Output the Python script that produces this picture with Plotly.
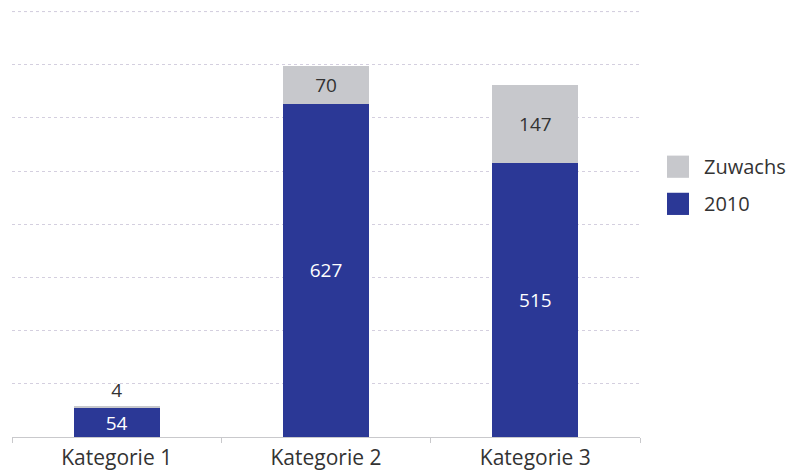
import plotly.graph_objects as go

categories = ["Kategorie 1", "Kategorie 2", "Kategorie 3"]
base_2010 = [54, 627, 515]
zuwachs = [4, 70, 147]
legend_names = ["Zuwachs", "2010"]
y_max = 800

BLUE = "#2b3896"
GRAY = "#c7c8cc"
TEXT = "#333333"
GRID = "#d4cfdf"
FONT = "Open Sans"

fig = go.Figure()

# stacked bars: 2010 base value plus growth on top
fig.add_trace(go.Bar(
    x=categories, y=base_2010, name=legend_names[1],
    marker=dict(color=BLUE, line=dict(width=0)),
    text=[str(v) for v in base_2010],
    textposition="inside", insidetextanchor="middle",
    textangle=0, constraintext="none",
    textfont=dict(color="white", size=19, family=FONT),
    showlegend=False, hoverinfo="skip",
))
fig.add_trace(go.Bar(
    x=categories, y=zuwachs, name=legend_names[0],
    marker=dict(color=GRAY, line=dict(width=0)),
    text=[str(v) for v in zuwachs],
    textposition=["outside", "inside", "inside"],
    insidetextanchor="middle",
    textangle=0, constraintext="none",
    textfont=dict(color=TEXT, size=19, family=FONT),
    cliponaxis=False,
    showlegend=False, hoverinfo="skip",
))

# legend drawn with large square swatches to the right of the plot
swatches = [(legend_names[0], GRAY, 0.633), (legend_names[1], BLUE, 0.546)]
shapes, annotations = [], []
for name, color, yc in swatches:
    shapes.append(dict(
        type="rect", xref="paper", yref="paper",
        x0=1.043, x1=1.078, y0=yc - 0.026, y1=yc + 0.026,
        fillcolor=color, line=dict(width=0),
    ))
    annotations.append(dict(
        xref="paper", yref="paper", x=1.098, y=yc,
        xanchor="left", yanchor="middle", showarrow=False,
        text=name, font=dict(size=20, family=FONT, color=TEXT),
    ))

# top gridline at the upper end of the value range
shapes.append(dict(
    type="line", xref="paper", yref="y", x0=0, x1=1, y0=y_max, y1=y_max,
    line=dict(color=GRID, width=1, dash="dot"), layer="below",
))

fig.update_layout(
    width=787, height=472,
    margin=dict(l=12, r=147, t=10, b=35),
    barmode="stack", bargap=0.59,
    plot_bgcolor="white", paper_bgcolor="white",
    font=dict(family=FONT, size=19, color=TEXT),
    showlegend=False,
    shapes=shapes, annotations=annotations,
    xaxis=dict(
        automargin=False,
        showline=True, linecolor="#c9c9cc", linewidth=1,
        ticks="outside", tickson="boundaries", ticklen=5, tickcolor="#c9c9cc",
        ticklabelstandoff=2,
        tickfont=dict(size=21, family=FONT, color=TEXT),
        showgrid=False,
    ),
    yaxis=dict(
        automargin=False,
        range=[0, y_max + 3], tick0=0, dtick=100, showticklabels=False,
        showgrid=True, gridcolor=GRID, griddash="dot", gridwidth=1,
        zeroline=False, showline=False,
    ),
)

fig.write_html("out.html")
